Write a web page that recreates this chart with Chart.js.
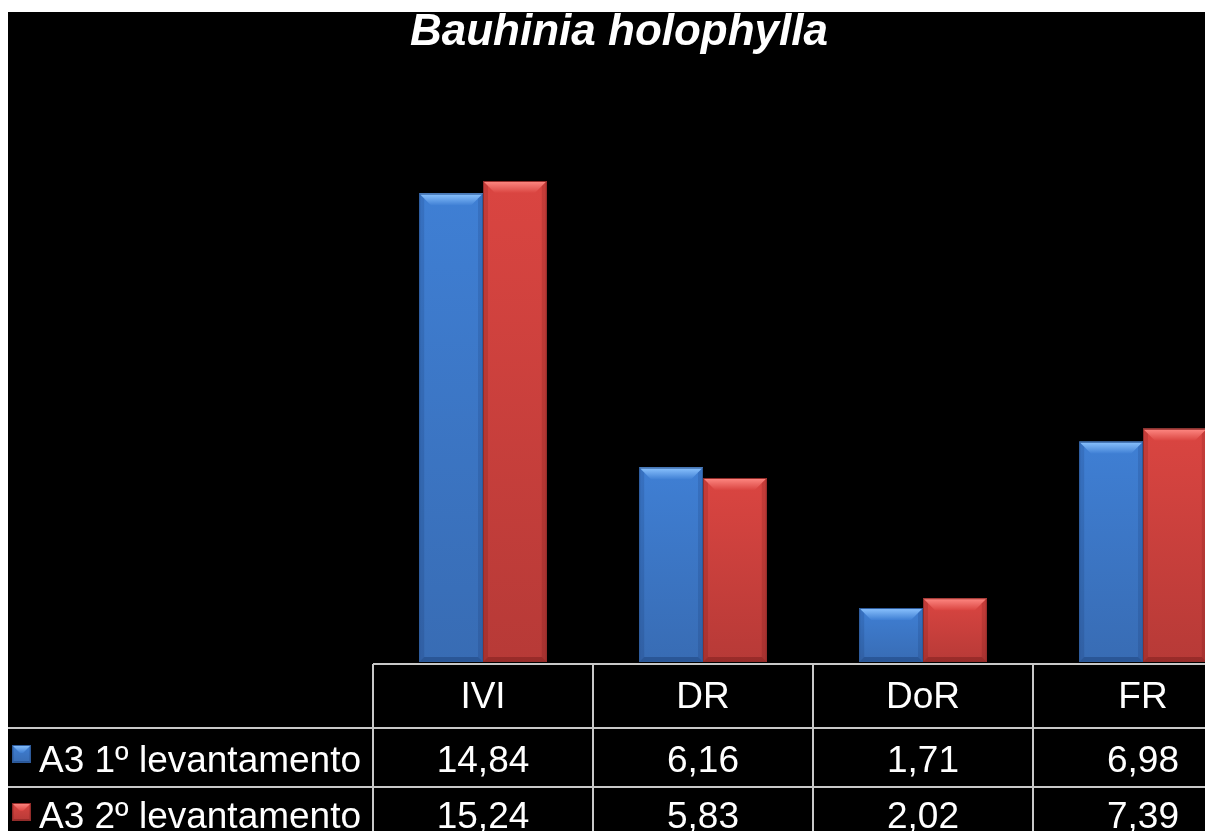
<!DOCTYPE html>
<html>
<head>
<meta charset="utf-8">
<script src="https://cdn.jsdelivr.net/npm/chart.js@4"></script>
<style>
  html, body { margin: 0; padding: 0; overflow: hidden; background: #fff; }
  canvas { display: block; }
</style>
</head>
<body>
<canvas id="chart" width="1260" height="831"></canvas>
<script>
// Chart data
const title = 'Bauhinia holophylla';
const categories = ['IVI', 'DR', 'DoR', 'FR'];
const seriesNames = ['A3 1º levantamento', 'A3 2º levantamento'];
const levantamento1 = [14.84, 6.16, 1.71, 6.98];
const levantamento2 = [15.24, 5.83, 2.02, 7.39];

// Colours for each series
const palette = [
    { face: '#3f7fd4', dark: '#386cb4', top: '#8cc4ff', side: 'rgba(0,20,60,0.12)', bottom: 'rgba(0,20,60,0.25)', line: '#2d5a9a' },
    { face: '#da4541', dark: '#b73a37', top: '#ff8a84', side: 'rgba(60,0,0,0.12)', bottom: 'rgba(60,0,0,0.25)', line: '#922c2a' }
];

// format numbers the brazilian way (comma decimal)
function fmt(v) {
    return v.toFixed(2).replace('.', ',');
}

// draw a bevelled box like the office 3D bars
function bevelBox(ctx, L, T, R, B, c, b, sb) {
    const poly = (pts, fill) => {
        ctx.beginPath();
        ctx.moveTo(pts[0][0], pts[0][1]);
        for (let i = 1; i < pts.length; i++) ctx.lineTo(pts[i][0], pts[i][1]);
        ctx.closePath();
        ctx.fillStyle = fill;
        ctx.fill();
    };
    let g = ctx.createLinearGradient(0, T, 0, B);
    g.addColorStop(0, c.face);
    g.addColorStop(1, c.dark);
    ctx.fillStyle = g;
    ctx.fillRect(L, T, R - L, B - T);

    // top facet
    g = ctx.createLinearGradient(0, T, 0, T + b);
    g.addColorStop(0, c.top);
    g.addColorStop(1, c.face);
    poly([[L, T], [R, T], [R - b, T + b], [L + b, T + b]], g);

    // sides and bottom, just a bit darker
    poly([[L, T], [L + sb, T + sb], [L + sb, B - sb], [L, B]], c.side);
    poly([[R, T], [R, B], [R - sb, B - sb], [R - sb, T + sb]], c.side);
    poly([[L, B], [R, B], [R - sb, B - sb], [L + sb, B - sb]], c.bottom);

    ctx.strokeStyle = c.line;
    ctx.lineWidth = 1;
    ctx.strokeRect(L + 0.5, T + 0.5, R - L - 1, B - T - 1);
}

const backgroundPlugin = {
    id: 'background',
    beforeDraw(chart) {
        const ctx = chart.ctx;
        ctx.save();
        ctx.fillStyle = '#ffffff';
        ctx.fillRect(0, 0, chart.width, chart.height);
        ctx.fillStyle = '#000000';
        ctx.fillRect(8, 12, chart.width - 8, chart.height - 12);
        ctx.restore();
    }
};

// bevel on each bar
const bevelPlugin = {
    id: 'bevel',
    afterDatasetsDraw(chart) {
        const ctx = chart.ctx;
        ctx.save();
        chart.data.datasets.forEach((ds, di) => {
            const meta = chart.getDatasetMeta(di);
            meta.data.forEach(bar => {
                const p = bar.getProps(['x', 'y', 'base', 'width'], true);
                const L = p.x - p.width / 2;
                const R = p.x + p.width / 2;
                bevelBox(ctx, L, p.y, R, p.base, palette[di], 12, 5);
            });
        });
        ctx.restore();
    }
};

// title + data table under the plot
const tablePlugin = {
    id: 'dataTable',
    afterDraw(chart) {
        const ctx = chart.ctx;
        const area = chart.chartArea;
        const xs = chart.scales.x;
        const colW = (area.right - area.left) / categories.length;
        const top = area.bottom + 2;
        const row1 = top + 64;
        const row2 = row1 + 59;
        ctx.save();

        // title
        ctx.fillStyle = '#ffffff';
        ctx.font = 'italic bold 44px "Liberation Sans", Arial, sans-serif';
        ctx.textAlign = 'center';
        ctx.textBaseline = 'alphabetic';
        ctx.fillText(title, 619, 45);

        // grid lines
        ctx.strokeStyle = '#c8c8c8';
        ctx.lineWidth = 2;
        ctx.beginPath();
        ctx.moveTo(area.left, top);
        ctx.lineTo(chart.width, top);
        ctx.moveTo(8, row1);
        ctx.lineTo(chart.width, row1);
        ctx.moveTo(8, row2);
        ctx.lineTo(chart.width, row2);
        for (let i = 0; i <= categories.length; i++) {
            const x = area.left + i * colW;
            ctx.moveTo(x, top);
            ctx.lineTo(x, chart.height);
        }
        ctx.stroke();

        // header + values
        ctx.font = '37px "Liberation Sans", Arial, sans-serif';
        ctx.fillStyle = '#ffffff';
        ctx.textAlign = 'center';
        categories.forEach((cat, i) => {
            const cx = xs.getPixelForValue(i);
            ctx.fillText(cat, cx, top + 44);
            ctx.fillText(fmt(levantamento1[i]), cx, row1 + 44);
            ctx.fillText(fmt(levantamento2[i]), cx, row2 + 41);
        });

        // row labels with legend keys
        ctx.textAlign = 'left';
        ctx.fillText(seriesNames[0], 39, row1 + 44);
        ctx.fillText(seriesNames[1], 39, row2 + 41);
        bevelBox(ctx, 12, row1 + 17, 31, row1 + 35, palette[0], 8, 2);
        bevelBox(ctx, 12, row2 + 16, 31, row2 + 34, palette[1], 8, 2);

        ctx.restore();
    }
};

const ctx = document.getElementById('chart').getContext('2d');
new Chart(ctx, {
    type: 'bar',
    data: {
        labels: categories,
        datasets: [
            {
                label: seriesNames[0],
                data: levantamento1,
                backgroundColor: palette[0].face,
                categoryPercentage: 0.58,
                barPercentage: 1
            },
            {
                label: seriesNames[1],
                data: levantamento2,
                backgroundColor: palette[1].face,
                categoryPercentage: 0.58,
                barPercentage: 1
            }
        ]
    },
    options: {
        responsive: false,
        animation: false,
        devicePixelRatio: 1,
        layout: {
            padding: { left: 373, right: 7, top: 157, bottom: 169 }
        },
        scales: {
            x: { display: false },
            y: { display: false, min: 0, max: 16 }
        },
        plugins: {
            legend: { display: false },
            tooltip: { enabled: false },
            title: { display: false }
        }
    },
    plugins: [backgroundPlugin, bevelPlugin, tablePlugin]
});
</script>
</body>
</html>
